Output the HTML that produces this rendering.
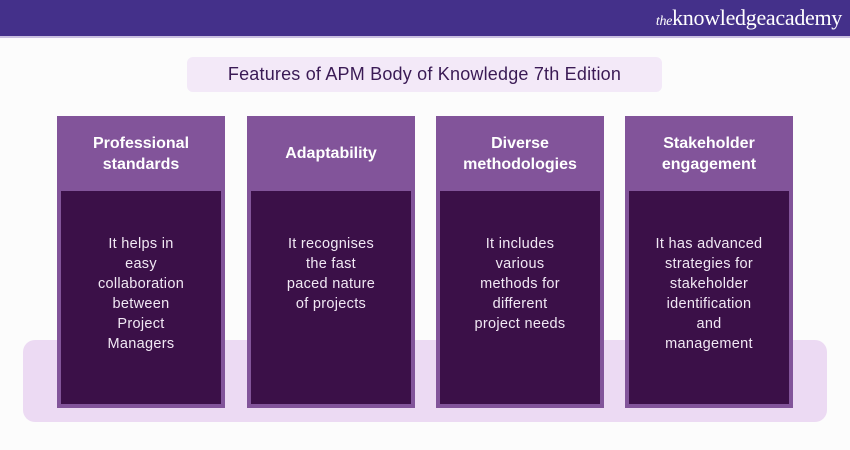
<!DOCTYPE html>
<html><head><style>
body{margin:0;width:850px;height:450px;background:#fcfcfc;position:relative;overflow:hidden;font-family:"Liberation Sans",sans-serif}
.hdr{position:absolute;left:0;top:0;width:850px;height:36px;background:#44308a;border-bottom:2px solid #c9bfe0}
.logo{position:absolute;right:8px;top:5px;color:#fff;font-family:"Liberation Serif",serif;font-size:22px;letter-spacing:-0.3px}
.logo i{font-size:14px}
.title{position:absolute;left:187px;top:57px;width:475px;height:35px;background:#f3e9f8;border-radius:6px;text-align:center;line-height:35px;font-size:18px;color:#3a1a55;letter-spacing:0.2px}
.band{position:absolute;left:23px;top:340px;width:804px;height:82px;background:#ecdaf3;border-radius:12px}
.card{position:absolute;top:116px;width:168px;height:292px;background:#82549a}
.card h3{margin:0;height:75px;display:flex;align-items:center;justify-content:center;text-align:center;color:#fff;font-size:16px;font-weight:bold;line-height:21px}
.inner{position:absolute;left:4px;top:75px;width:160px;height:213px;background:#3b1048;color:#f1e8f4;text-align:center;font-size:14.5px;line-height:20px;box-sizing:border-box;padding-top:43px;letter-spacing:0.3px}
</style></head><body>
<div class="hdr"><div class="logo"><i>the</i>knowledgeacademy</div></div>
<div class="title">Features of APM Body of Knowledge 7th Edition</div>
<div class="band"></div>
<div class="card" style="left:57px"><h3>Professional<br>standards</h3><div class="inner">It helps in<br>easy<br>collaboration<br>between<br>Project<br>Managers</div></div>
<div class="card" style="left:247px"><h3>Adaptability</h3><div class="inner">It recognises<br>the fast<br>paced nature<br>of projects</div></div>
<div class="card" style="left:436px"><h3>Diverse<br>methodologies</h3><div class="inner">It includes<br>various<br>methods for<br>different<br>project needs</div></div>
<div class="card" style="left:625px"><h3>Stakeholder<br>engagement</h3><div class="inner">It has advanced<br>strategies for<br>stakeholder<br>identification<br>and<br>management</div></div>
</body></html>
